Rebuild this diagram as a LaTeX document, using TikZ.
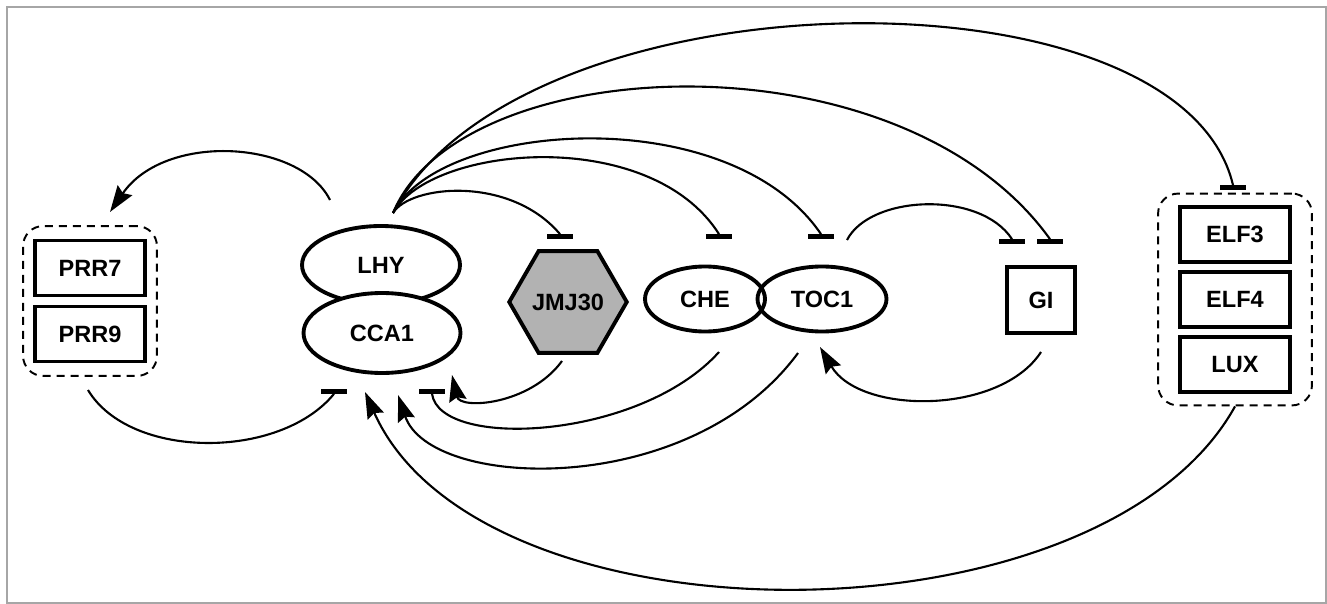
\documentclass[tikz,border=0pt]{standalone}
\usepackage{fontspec}
\setmainfont{Liberation Sans}
\usetikzlibrary{arrows.meta, shapes.geometric, fit}

\begin{document}
\begin{tikzpicture}[
    x=0.02cm, y=-0.02cm,
    >={Stealth[length=15pt, width=10pt, inset=2pt]},
    font=\fontsize{13.4}{16}\selectfont\bfseries,
    oval/.style={ellipse, draw, line width=2.2pt, inner sep=0pt},
    gene/.style={rectangle, draw, line width=2.2pt, minimum width=2.2cm, minimum height=1.1cm},
    group/.style={rectangle, draw, rounded corners=0.4cm, line width=1.1pt, dash pattern=on 0.16cm off 0.12cm},
    bar/.style={rectangle, fill=black, minimum width=0.52cm, minimum height=0.1cm, inner sep=0pt},
    link/.style={line width=1.2pt}
]
    \useasboundingbox (0,0) rectangle (1327,604);
    \draw[black!35, line width=1.2pt] (7,7) rectangle (1326,603);

    % 节点定义
    \node[gene] (prr7) at (90,268) {PRR7};
    \node[gene] (prr9) at (90,334) {PRR9};
    \node[group, fit=(prr7)(prr9), inner xsep=0.2cm, inner ysep=0.25cm] (prr) {};

    \node[oval, minimum width=3.16cm, minimum height=1.56cm] (lhy) at (381,265) {LHY};
    \node[oval, fill=white, minimum width=3.14cm, minimum height=1.6cm] (cca1) at (382,333) {CCA1};

    \node[regular polygon, regular polygon sides=6, minimum size=2.14cm, draw, fill=black!30,
          line width=2.2pt, inner sep=0pt] (jmj) at (568,302) {JMJ30};

    \node[oval, minimum width=2.4cm, minimum height=1.3cm] (che) at (705,299) {CHE};
    \node[oval, minimum width=2.58cm, minimum height=1.3cm] (toc1) at (822,299) {TOC1};
    \node[gene, minimum width=1.36cm, minimum height=1.32cm] (gi) at (1041,300) {GI};

    \node[gene] (elf3) at (1235,234.5) {ELF3};
    \node[gene] (elf4) at (1235,299.5) {ELF4};
    \node[gene] (lux) at (1235,364.5) {LUX};
    \node[group, fit=(elf3)(lux), inner xsep=0.4cm, inner ysep=0.23cm] (elf) {};

    % 抑制端 (短横)
    \node[bar] (tJmj) at (560,237) {};
    \node[bar] (tChe) at (719,237) {};
    \node[bar] (tToc) at (821,237) {};
    \node[bar] (tGiA) at (1012,242) {};
    \node[bar] (tGiB) at (1050,242) {};
    \node[bar] (tElf) at (1233,188) {};
    \node[bar] (tCcaA) at (334,391) {};
    \node[bar] (tCcaB) at (432,391) {};

    % 曲线端点
    \coordinate (lhyOut) at (393,213);
    \coordinate (lhyLeft) at (330,200);
    \coordinate (prrIn) at (110,212);
    \coordinate (prrOut) at (88,390);
    \coordinate (jmjOut) at (562,361);
    \coordinate (cheOut) at (719,352);
    \coordinate (tocOut) at (847,240);
    \coordinate (tocDown) at (798,353);
    \coordinate (tocIn) at (820,347);
    \coordinate (giOut) at (1041,352);
    \coordinate (ccaInA) at (452,375);
    \coordinate (ccaInB) at (398,395);
    \coordinate (ccaInC) at (365,392);

    % 1. LHY/CCA1 的抑制
    \draw[link] (lhyOut) .. controls (410,185) and (510,175) .. (tJmj.north);
    \draw[link] (lhyOut) .. controls (430,145) and (650,125) .. (tChe.north);
    \draw[link] (lhyOut) .. controls (440,120) and (730,100) .. (tToc.north);
    \draw[link] (lhyOut) .. controls (460,50) and (900,30) .. (tGiB.north);
    \draw[link] (lhyOut) .. controls (520,-30) and (1180,-40) .. (tElf.north);

    % 2. LHY/CCA1 激活 PRR7/PRR9
    \draw[link, ->] (lhyLeft) .. controls (300,140) and (165,132) .. (prrIn);

    % 3. 指向 CCA1 的抑制
    \draw[link] (prrOut) .. controls (130,460) and (280,460) .. (tCcaA.south);
    \draw[link] (cheOut) .. controls (640,440) and (440,450) .. (tCcaB.south);

    % 4. 指向 CCA1 的激活
    \draw[link, ->] (jmjOut) .. controls (530,405) and (460,410) .. (ccaInA);
    \draw[link, ->] (tocDown) .. controls (690,500) and (430,490) .. (ccaInB);
    \draw[link, ->] (elf.south) .. controls (1100,650) and (480,650) .. (ccaInC);

    % 5. TOC1 与 GI
    \draw[link] (tocOut) .. controls (870,195) and (980,190) .. (tGiA.north);
    \draw[link, ->] (giOut) .. controls (1000,415) and (860,415) .. (tocIn);

\end{tikzpicture}
\end{document}
